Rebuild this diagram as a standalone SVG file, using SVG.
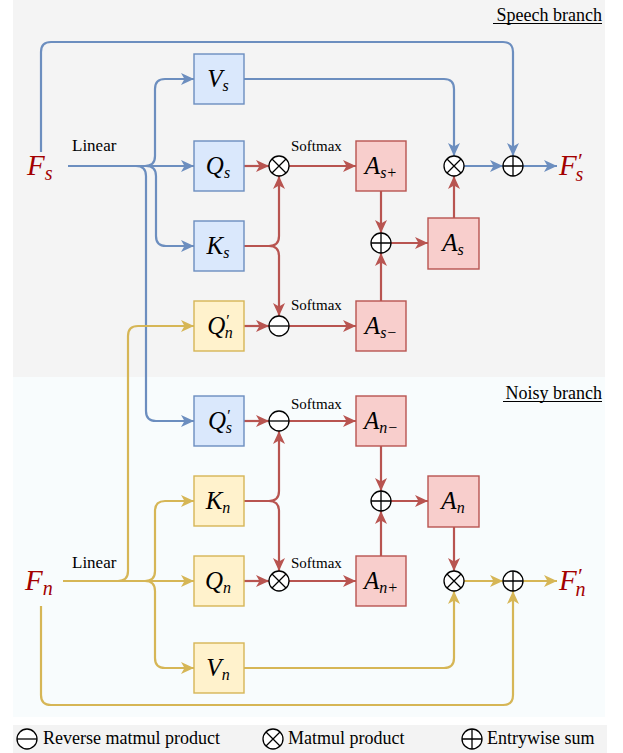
<svg xmlns="http://www.w3.org/2000/svg" width="623" height="753" viewBox="0 0 623 753" font-family="Liberation Serif">
  <style>
    .bx-b { fill: #dae8fc; stroke: #6c8ebf; stroke-width: 1.4; }
    .bx-y { fill: #fff2cc; stroke: #d6b656; stroke-width: 1.4; }
    .bx-r { fill: #f8cecc; stroke: #b85450; stroke-width: 1.4; }
    .math { font-style: italic; font-size: 25px; fill: #000; text-anchor: middle; }
    .sub { font-size: 16px; }
    .lbl { fill: #000; }
    .feat { font-style: italic; font-size: 29px; fill: #a30000; }
    .c { fill: none; stroke-width: 2.2; }
    .op { fill: #fff; stroke: #000; stroke-width: 1.3; }
  </style>
  <defs>
    <marker id="ab" markerUnits="userSpaceOnUse" markerWidth="14" markerHeight="12" refX="13" refY="6" orient="auto">
      <path d="M0,0 L13,6 L0,12 L3.5,6 z" fill="#6c8ebf"/>
    </marker>
    <marker id="ay" markerUnits="userSpaceOnUse" markerWidth="14" markerHeight="12" refX="13" refY="6" orient="auto">
      <path d="M0,0 L13,6 L0,12 L3.5,6 z" fill="#d6b656"/>
    </marker>
    <marker id="ar" markerUnits="userSpaceOnUse" markerWidth="14" markerHeight="12" refX="13" refY="6" orient="auto">
      <path d="M0,0 L13,6 L0,12 L3.5,6 z" fill="#b85450"/>
    </marker>
  </defs>

  <!-- branch backgrounds -->
  <rect x="0" y="0" width="623" height="753" fill="#ffffff"/>
  <rect x="13" y="0" width="592" height="377" fill="#f4f4f4"/>
  <rect x="13" y="377" width="592" height="340" fill="#f8fcfd"/>
  <rect x="13" y="725" width="594" height="28" fill="#f3f3f3"/>

  <text class="lbl" font-family="Liberation Serif" x="602" y="20.5" font-size="18" text-anchor="end">Speech branch</text>
  <line x1="493" y1="23.5" x2="602" y2="23.5" stroke="#000" stroke-width="1"/>
  <text class="lbl" font-family="Liberation Serif" x="602" y="398.5" font-size="18" text-anchor="end">Noisy branch</text>
  <line x1="503" y1="401.5" x2="602" y2="401.5" stroke="#000" stroke-width="1"/>

  <!-- connectors -->
  <g id="connectors">
    <!-- speech branch, blue -->
    <g class="c" stroke="#6c8ebf" marker-end="url(#ab)">
      <path d="M68,166 H194"/>
      <path d="M68,166 H145 Q155,166 155,156 V89 Q155,79 165,79 H194"/>
      <path d="M68,166 H146 Q156,166 156,176 V236 Q156,246 166,246 H194"/>
      <path d="M68,166 H136 Q146,166 146,176 V411 Q146,421 156,421 H194"/>
      <path d="M41,152 V52 Q41,42 51,42 H503 Q513,42 513,52 V156"/>
      <path d="M244,79 H444 Q454,79 454,89 V156"/>
      <path d="M464,166 H503"/>
      <path d="M523,166 H557"/>
    </g>
    <!-- noisy branch, yellow -->
    <g class="c" stroke="#d6b656" marker-end="url(#ay)">
      <path d="M63,581 H194"/>
      <path d="M63,581 H118 Q128,581 128,571 V336 Q128,326 138,326 H194"/>
      <path d="M63,581 H145 Q155,581 155,571 V511 Q155,501 165,501 H194"/>
      <path d="M63,581 H145 Q155,581 155,591 V658 Q155,668 165,668 H194"/>
      <path d="M41,606 V695 Q41,705 51,705 H503 Q513,705 513,695 V591"/>
      <path d="M244,668 H444 Q454,668 454,658 V591"/>
      <path d="M464,581 H503"/>
      <path d="M523,581 H557"/>
    </g>
    <!-- attention paths, red -->
    <g class="c" stroke="#b85450" marker-end="url(#ar)">
      <path d="M244,166 H269"/>
      <path d="M289,166 H356"/>
      <path d="M244,246 H269 Q279,246 279,236 V176"/>
      <path d="M244,246 H269 Q279,246 279,256 V316"/>
      <path d="M244,326 H269"/>
      <path d="M289,326 H356"/>
      <path d="M381,191 V233"/>
      <path d="M381,301 V253"/>
      <path d="M391,243 H428"/>
      <path d="M454,218 V176"/>
      <path d="M244,421 H269"/>
      <path d="M289,421 H356"/>
      <path d="M244,501 H269 Q279,501 279,491 V431"/>
      <path d="M244,501 H269 Q279,501 279,511 V571"/>
      <path d="M244,581 H269"/>
      <path d="M289,581 H356"/>
      <path d="M381,446 V491"/>
      <path d="M381,556 V511"/>
      <path d="M391,501 H428"/>
      <path d="M454,526 V571"/>
    </g>
  </g>

  <!-- connector labels -->
  <text class="lbl" font-family="Liberation Serif" x="72" y="151" font-size="17">Linear</text>
  <text class="lbl" font-family="Liberation Serif" x="72" y="568" font-size="17">Linear</text>
  <text class="lbl" font-family="Liberation Serif" x="291" y="151" font-size="15">Softmax</text>
  <text class="lbl" font-family="Liberation Serif" x="291" y="310" font-size="15">Softmax</text>
  <text class="lbl" font-family="Liberation Serif" x="291" y="409" font-size="15">Softmax</text>
  <text class="lbl" font-family="Liberation Serif" x="291" y="568" font-size="15">Softmax</text>

  <!-- input / output features -->
  <g id="Fs"><text class="feat" font-family="Liberation Serif" x="27" y="175">F<tspan font-size="20" dy="5">s</tspan></text></g>
  <g id="Fs_out"><text class="feat" font-family="Liberation Serif" x="559" y="175">F<tspan font-size="22" dy="-7">′</tspan><tspan font-size="20" dx="-6" dy="13">s</tspan></text></g>
  <g id="Fn"><text class="feat" font-family="Liberation Serif" x="25" y="590">F<tspan font-size="20" dy="5">n</tspan></text></g>
  <g id="Fn_out"><text class="feat" font-family="Liberation Serif" x="559" y="590">F<tspan font-size="22" dy="-7">′</tspan><tspan font-size="20" dx="-6" dy="13">n</tspan></text></g>

  <!-- projection nodes -->
  <g id="Vs"><rect class="bx-b" x="194" y="54" width="50" height="50"/><text class="math" font-family="Liberation Serif" x="218" y="87">V<tspan class="sub" dy="4">s</tspan></text></g>
  <g id="Qs"><rect class="bx-b" x="194" y="141" width="50" height="50"/><text class="math" font-family="Liberation Serif" x="218" y="174">Q<tspan class="sub" dy="4">s</tspan></text></g>
  <g id="Ks"><rect class="bx-b" x="194" y="221" width="50" height="50"/><text class="math" font-family="Liberation Serif" x="218" y="254">K<tspan class="sub" dy="4">s</tspan></text></g>
  <g id="Qn_p"><rect class="bx-y" x="194" y="301" width="50" height="50"/><text class="math" font-family="Liberation Serif" x="220" y="334" fill="#3a0c2a">Q<tspan class="sub" dy="-8">′</tspan><tspan class="sub" dx="-4" dy="12">n</tspan></text></g>
  <g id="Qs_p"><rect class="bx-b" x="194" y="396" width="50" height="50"/><text class="math" font-family="Liberation Serif" x="220" y="429" fill="#3a0c2a">Q<tspan class="sub" dy="-8">′</tspan><tspan class="sub" dx="-4" dy="12">s</tspan></text></g>
  <g id="Kn"><rect class="bx-y" x="194" y="476" width="50" height="50"/><text class="math" font-family="Liberation Serif" x="218" y="509">K<tspan class="sub" dy="4">n</tspan></text></g>
  <g id="Qn"><rect class="bx-y" x="194" y="556" width="50" height="50"/><text class="math" font-family="Liberation Serif" x="218" y="589">Q<tspan class="sub" dy="4">n</tspan></text></g>
  <g id="Vn"><rect class="bx-y" x="194" y="643" width="50" height="50"/><text class="math" font-family="Liberation Serif" x="218" y="676">V<tspan class="sub" dy="4">n</tspan></text></g>

  <!-- attention nodes -->
  <g id="As_plus"><rect class="bx-r" x="356" y="141" width="50" height="50"/><text class="math" font-family="Liberation Serif" x="381" y="174">A<tspan class="sub" dy="4">s+</tspan></text></g>
  <g id="As"><rect class="bx-r" x="428" y="218" width="51" height="51"/><text class="math" font-family="Liberation Serif" x="453" y="251">A<tspan class="sub" dy="4">s</tspan></text></g>
  <g id="As_minus"><rect class="bx-r" x="356" y="301" width="50" height="50"/><text class="math" font-family="Liberation Serif" x="381" y="334">A<tspan class="sub" dy="4">s−</tspan></text></g>
  <g id="An_minus"><rect class="bx-r" x="356" y="396" width="50" height="50"/><text class="math" font-family="Liberation Serif" x="381" y="429">A<tspan class="sub" dy="4">n−</tspan></text></g>
  <g id="An"><rect class="bx-r" x="428" y="476" width="51" height="51"/><text class="math" font-family="Liberation Serif" x="453" y="509">A<tspan class="sub" dy="4">n</tspan></text></g>
  <g id="An_plus"><rect class="bx-r" x="356" y="556" width="50" height="50"/><text class="math" font-family="Liberation Serif" x="381" y="589">A<tspan class="sub" dy="4">n+</tspan></text></g>

  <!-- operators: circle with cross = matmul, circle with plus = sum, circle with bar = reverse matmul -->
  <g id="op_mul_s" class="op"><circle cx="279" cy="166" r="10"/><path d="M272,159 L286,173 M272,173 L286,159"/></g>
  <g id="op_rev_s" class="op"><circle cx="279" cy="326" r="10"/><path d="M269,326 H289"/></g>
  <g id="op_sum_as" class="op"><circle cx="381" cy="243" r="10"/><path d="M371,243 H391 M381,233 V253"/></g>
  <g id="op_mul_out_s" class="op"><circle cx="454" cy="166" r="10"/><path d="M447,159 L461,173 M447,173 L461,159"/></g>
  <g id="op_sum_out_s" class="op"><circle cx="513" cy="166" r="10"/><path d="M503,166 H523 M513,156 V176"/></g>
  <g id="op_rev_n" class="op"><circle cx="279" cy="421" r="10"/><path d="M269,421 H289"/></g>
  <g id="op_mul_n" class="op"><circle cx="279" cy="581" r="10"/><path d="M272,574 L286,588 M272,588 L286,574"/></g>
  <g id="op_sum_an" class="op"><circle cx="381" cy="501" r="10"/><path d="M371,501 H391 M381,491 V511"/></g>
  <g id="op_mul_out_n" class="op"><circle cx="454" cy="581" r="10"/><path d="M447,574 L461,588 M447,588 L461,574"/></g>
  <g id="op_sum_out_n" class="op"><circle cx="513" cy="581" r="10"/><path d="M503,581 H523 M513,571 V591"/></g>

  <!-- legend -->
  <g id="legend">
    <g class="op"><circle cx="27" cy="739" r="10"/><path d="M17,739 H37"/></g>
    <text class="lbl" font-family="Liberation Serif" x="43" y="744" font-size="18">Reverse matmul product</text>
    <g class="op"><circle cx="273" cy="739" r="10"/><path d="M266,732 L280,746 M266,746 L280,732"/></g>
    <text class="lbl" font-family="Liberation Serif" x="288" y="744" font-size="18">Matmul product</text>
    <g class="op"><circle cx="472" cy="739" r="10"/><path d="M462,739 H482 M472,729 V749"/></g>
    <text class="lbl" font-family="Liberation Serif" x="487" y="744" font-size="18">Entrywise sum</text>
  </g>
</svg>
